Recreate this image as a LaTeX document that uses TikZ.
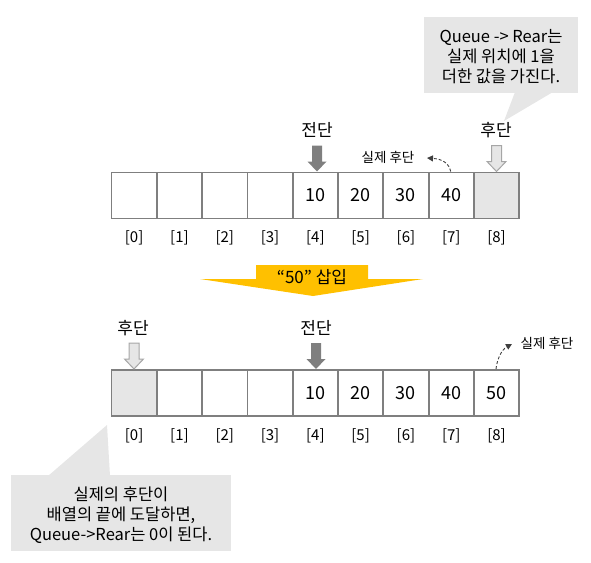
\documentclass[tikz,border=0pt]{standalone}
\usepackage{fontspec}
\setmainfont{Noto Sans CJK KR}
\usetikzlibrary{arrows.meta,calc}
\definecolor{cellgray}{HTML}{7F7F7F}
\definecolor{fillgray}{HTML}{E6E6E6}
\definecolor{hollowgray}{HTML}{A6A6A6}
\definecolor{frontgray}{HTML}{7F7F7F}
\definecolor{gold}{HTML}{FFC000}
\definecolor{dashgray}{HTML}{404040}
\tikzset{
  cell/.style={draw=cellgray, line width=1.8pt, minimum width=45.3pt, minimum height=46pt, inner sep=0pt, font=\fontsize{18}{20}\selectfont},
  rearcell/.style={cell, fill=fillgray},
  idx/.style={font=\fontsize{15}{17}\selectfont, inner sep=0pt},
  ptr/.style={font=\fontsize{17}{19}\selectfont, inner sep=0pt},
  small/.style={font=\fontsize{13.5}{15}\selectfont, inner sep=0pt},
  frontarrow/.style={fill=frontgray},
  reararrow/.style={fill=fillgray, draw=hollowgray, line width=1pt},
  dasharrow/.style={draw=dashgray, dashed, dash pattern=on 3pt off 2pt, line width=0.9pt, -{Triangle[length=6pt,width=6pt]}},
  calloutbg/.style={fill=fillgray},
  callouttext/.style={font=\fontsize{16.5}{20}\selectfont, align=center, inner sep=0pt},
}
\newcommand\downblock[2]{\path[#1] (#2) ++(-5,-26) -- ++(10,0) -- ++(0,16) -- ++(4.5,0) -- (#2) -- ++(-9.5,-10) -- ++(4.5,0) -- cycle;}
\begin{document}
\begin{tikzpicture}[x=1pt,y=-1pt]
\useasboundingbox (0,0) rectangle (591,562);
% top array
\foreach \i/\v in {0/,1/,2/,3/,4/10,5/20,6/30,7/40}{
  \node[cell] (t\i) at (134.15+45.3*\i,195.4) {\v};
  \node[idx] (ti\i) at (134.15+45.3*\i,238) {[\i]};
}
\node[rearcell] (t8) at (134.15+45.3*8,195.4) {};
\node[idx] (ti8) at (134.15+45.3*8,238) {[8]};
% bottom array
\node[rearcell] (b0) at (134.15,393) {};
\node[idx] (bi0) at (134.15,436) {[0]};
\foreach \i/\v in {1/,2/,3/,4/10,5/20,6/30,7/40,8/50}{
  \node[cell] (b\i) at (134.15+45.3*\i,393) {\v};
  \node[idx] (bi\i) at (134.15+45.3*\i,436) {[\i]};
}
% pointers top
\coordinate (tf) at (317,171.5);
\coordinate (tr) at (496.5,171.5);
\downblock{frontarrow}{tf}
\downblock{reararrow}{tr}
\node[ptr] (tfl) at (317,130) {전단};
\node[ptr] (trl) at (496,130) {후단};
\node[small] (tact) at (388,157) {실제 후단};
\coordinate (tas) at (450.7,171.5);
\coordinate (tae) at (427,158);
\draw[dasharrow] (tas) .. controls (449,163) and (442,159) .. (tae);
% pointers bottom
\coordinate (bf) at (316,369);
\coordinate (br) at (134,369);
\downblock{frontarrow}{bf}
\downblock{reararrow}{br}
\node[ptr] (bfl) at (316,328) {전단};
\node[ptr] (brl) at (133,328) {후단};
\node[small] (bact) at (547,343) {실제 후단};
\coordinate (bas) at (496,369);
\coordinate (bae) at (512,344);
\draw[dasharrow] (bas) .. controls (497,360) and (501,350) .. (bae);
% yellow block arrow
\fill[gold] (256,265) -- (368,265) -- (368,279) -- (423,279) -- (313,296) -- (200,279) -- (256,279) -- cycle;
\node[font=\fontsize{17}{19}\selectfont, inner sep=0pt] (ins) at (312,277) {“50” 삽입};
% callout top
\fill[calloutbg] (424,17) rectangle (577.7,92.5);
\fill[calloutbg] (515,92) -- (504,121) -- (553,92) -- cycle;
\node[callouttext] (c1) at (501,57) {Queue -> Rear는\\실제 위치에 1을\\더한 값을 가진다.};
% callout bottom
\fill[calloutbg] (11,475) rectangle (230.7,550.5);
\fill[calloutbg] (48,476) -- (107,425) -- (110,476) -- cycle;
\node[callouttext] (c2) at (121,515) {실제의 후단이\\배열의 끝에 도달하면,\\Queue->Rear는 0이 된다.};
\end{tikzpicture}
\end{document}
